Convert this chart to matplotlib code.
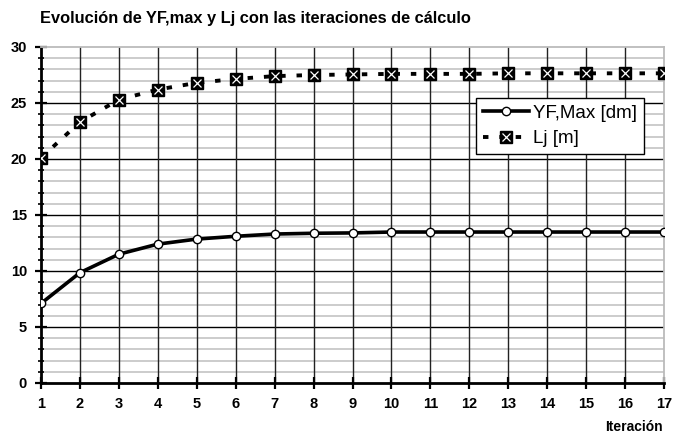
import matplotlib
matplotlib.use("Agg")
import matplotlib.pyplot as plt
from matplotlib.ticker import MultipleLocator
from matplotlib.lines import Line2D

plt.rcParams['font.family'] = ['Liberation Sans', 'DejaVu Sans']

iteraciones = list(range(1, 18))
yf_max_dm = [7.1, 9.85, 11.5, 12.4, 12.85, 13.1, 13.3, 13.37, 13.4, 13.48,
             13.48, 13.48, 13.48, 13.48, 13.48, 13.48, 13.48]
lj_m = [20.1, 23.3, 25.3, 26.2, 26.8, 27.15, 27.4, 27.5, 27.55, 27.6,
        27.6, 27.6, 27.65, 27.65, 27.65, 27.65, 27.65]
y_ticks = [0, 5, 10, 15, 20, 25, 30]

fig = plt.figure(figsize=(6.82, 4.34), dpi=100)
ax = fig.add_axes([41 / 682, 1 - 383 / 434, 623 / 682, 336 / 434])

ax.set_xlim(1, 17)
ax.set_ylim(0, 30)

# grid: light minor lines every unit, black at major steps, dark verticals
for v in range(1, 30):
    if v % 5:
        ax.axhline(v, color='#c8c8c8', lw=1.3, zorder=1)
for v in y_ticks[1:-1]:
    ax.axhline(v, color='black', lw=1.0, zorder=1.5)
for x in iteraciones[1:-1]:
    ax.axvline(x, color='#222222', lw=1.0, zorder=1.5)

dash = (0, (1.4, 2.8))
ax.plot(iteraciones, yf_max_dm, color='black', lw=2.6, marker='o',
        markersize=6, markerfacecolor='white', markeredgecolor='black',
        markeredgewidth=1.0, label='YF,Max [dm]', zorder=3)
ax.plot(iteraciones, lj_m, color='black', lw=2.8, linestyle=dash,
        marker='s', markersize=9, markerfacecolor='black',
        markeredgecolor='black', label='Lj [m]', zorder=3)
ax.plot(iteraciones, lj_m, linestyle='none', marker='x', markersize=6,
        markeredgecolor='white', markeredgewidth=0.9, zorder=4)

ax.set_xticks(iteraciones)
ax.set_yticks(y_ticks)
ax.yaxis.set_minor_locator(MultipleLocator(1))
ax.tick_params(axis='both', which='major', direction='inout', length=8,
               width=1.6, labelsize=10.5, pad=6)
ax.tick_params(axis='y', which='minor', direction='inout', length=5, width=1.2)
for lbl in ax.get_xticklabels() + ax.get_yticklabels():
    lbl.set_fontweight('bold')

for side in ('top', 'right'):
    ax.spines[side].set_color('#bbbbbb')
    ax.spines[side].set_linewidth(1.3)
for side in ('left', 'bottom'):
    ax.spines[side].set_color('black')
    ax.spines[side].set_linewidth(2.0)

fig.text(40 / 682, 1 - 19 / 434, 'Evolución de YF,max y Lj con las iteraciones de cálculo',
         fontsize=11.8, fontweight='bold', va='center', ha='left')
fig.text(663 / 682, 1 - 431 / 434, 'Iteración', fontsize=10, fontweight='bold',
         va='baseline', ha='right')

# legend with a custom entry for the crossed square marker
h1 = Line2D([], [], color='black', lw=2.6, marker='o', markersize=6,
            markerfacecolor='white', markeredgecolor='black', markeredgewidth=1.0)
h2 = Line2D([], [], color='black', lw=2.8, linestyle=dash, marker='s',
            markersize=9, markerfacecolor='black')
h2x = Line2D([], [], linestyle='none', marker='x', markersize=6,
             markeredgecolor='white', markeredgewidth=0.9)
leg = ax.legend([h1, (h2, h2x)], ['YF,Max [dm]', 'Lj [m]'],
                loc='upper left', bbox_to_anchor=((476 - 41) / 623, 1 - (98 - 47) / 336),
                fontsize=13.5, frameon=True, fancybox=False, edgecolor='black',
                framealpha=1, borderpad=0.35, labelspacing=0.45, handlelength=2.5,
                handletextpad=0.2, borderaxespad=0)
leg.get_frame().set_linewidth(1.0)
leg.set_zorder(5)

fig.savefig('out.png', dpi=100)
